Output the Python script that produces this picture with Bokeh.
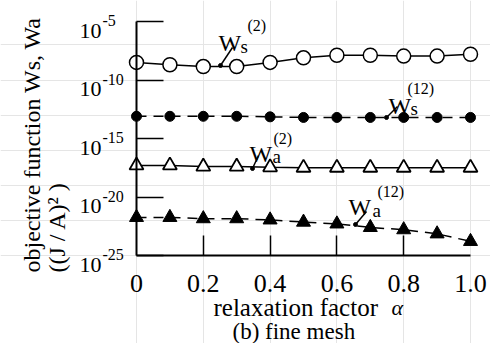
import math
from bokeh.plotting import figure
from bokeh.models import Range1d, LinearAxis, LogAxis, FixedTicker
from bokeh.core.properties import value
from bokeh.embed import file_html
from bokeh.resources import INLINE

# ---------------- data ----------------
alpha = [0.0, 0.1, 0.2, 0.3, 0.4, 0.5, 0.6, 0.7, 0.8, 0.9, 1.0]
ws2 = [3.2e-9, 2.0e-9, 1.4e-9, 1.4e-9, 3.2e-9, 7.9e-9, 1.3e-8, 1.3e-8, 1.1e-8, 1.1e-8, 1.6e-8]
ws12 = [7.9e-14, 7.9e-14, 7.9e-14, 7.9e-14, 7.1e-14, 6.3e-14, 6.3e-14, 6.3e-14, 6.3e-14, 6.3e-14, 6.3e-14]
wa2 = [5.0e-18, 5.0e-18, 4.0e-18, 4.0e-18, 3.5e-18, 3.2e-18, 3.2e-18, 3.2e-18, 3.2e-18, 3.2e-18, 3.2e-18]
wa12 = [1.8e-22, 1.8e-22, 1.4e-22, 1.4e-22, 1.1e-22, 7.1e-23, 5.0e-23, 2.5e-23, 1.6e-23, 7.1e-24, 1.6e-24]

x_ticks = [0.2, 0.4, 0.6, 0.8]
x_label_pos = [0.0, 0.2, 0.4, 0.6, 0.8, 1.0]
x_labels = ["0", "0.2", "0.4", "0.6", "0.8", "1.0"]
y_ticks = [1e-5, 1e-10, 1e-15, 1e-20, 1e-25]
y_exps = ["-5", "-10", "-15", "-20", "-25"]

# ---------------- layout ----------------
W, H = 490, 343
OX, OY = 136, 255          # px of the origin (alpha=0, 1e-25)
PX_X = 334.0               # px per unit alpha
PX_DEC = 11.7              # px per decade

x_range = Range1d(-OX / PX_X, (W - OX) / PX_X)
y_range = Range1d(10 ** (-25 - (H - OY) / PX_DEC), 10 ** (-25 + OY / PX_DEC))

def X(px):   # px -> data x
    return (px - OX) / PX_X

def Y(py):   # px -> data y
    return 10 ** (-25 + (OY - py) / PX_DEC)

SERIF = value("Liberation Serif")

p = figure(width=W, height=H, x_range=x_range, y_range=y_range,
           y_axis_type="log", x_axis_location=None, y_axis_location=None,
           output_backend="svg", toolbar_location=None)
p.min_border = 0
p.min_border_left = p.min_border_right = p.min_border_top = p.min_border_bottom = 0
p.outline_line_color = None
p.background_fill_color = "white"
p.border_fill_color = "white"

xaxis = LinearAxis(fixed_location=1e-25, bounds=(0, 1),
                   ticker=FixedTicker(ticks=x_ticks),
                   major_tick_in=20, major_tick_out=0,
                   minor_tick_in=0, minor_tick_out=0,
                   axis_line_width=2, major_tick_line_width=1.5,
                   major_label_text_color=None)
p.add_layout(xaxis, "below")
yaxis = LogAxis(fixed_location=0, bounds=(1e-25, 1e-5),
                ticker=FixedTicker(ticks=y_ticks),
                major_tick_in=27, major_tick_out=0,
                minor_tick_in=0, minor_tick_out=0,
                axis_line_width=2, major_tick_line_width=1.5,
                major_label_text_color=None)
p.add_layout(yaxis, "left")

# ---------------- series ----------------
p.line(alpha, ws2, line_color="black", line_width=1.5)
p.scatter(alpha, ws2, marker="circle", size=14, fill_color="white", line_color="black", line_width=1.5)

p.line(alpha, ws12, line_color="black", line_width=1.5, line_dash="10 7")
p.scatter(alpha, ws12, marker="circle", size=10, fill_color="black", line_color="black")

p.line(alpha, wa2, line_color="black", line_width=1.5)
p.scatter(alpha, wa2, marker="triangle", size=14, fill_color="white", line_color="black", line_width=1.8)

p.line(alpha, wa12, line_color="black", line_width=1.5, line_dash="10 7")
p.scatter(alpha, wa12, marker="triangle", size=14, fill_color="black", line_color="black")

# ---------------- tick labels ----------------
p.text(x=[0] * len(y_ticks), y=y_ticks, text=["10"] * len(y_ticks), x_offset=-57, y_offset=9,
       text_font=SERIF, text_font_size="22px",
       text_align="left", text_baseline="alphabetic", text_color="black")
p.text(x=[0] * len(y_ticks), y=y_ticks, text=y_exps, x_offset=-34, y_offset=-1,
       text_font=SERIF, text_font_size="16px",
       text_align="left", text_baseline="alphabetic", text_color="black")
p.text(x=x_label_pos, y=[1e-25] * len(x_label_pos), text=x_labels, y_offset=28,
       text_font=SERIF, text_font_size="26px",
       text_align="center", text_baseline="alphabetic", text_color="black")

# ---------------- axis titles ----------------
p.text(x=[X(213)], y=[Y(307)], text=["relaxation factor"],
       text_font=SERIF, text_font_size="25px",
       text_align="left", text_baseline="alphabetic", text_color="black")
p.text(x=[X(391)], y=[Y(307)], text=["α"],
       text_font=SERIF, text_font_size="22px", text_font_style="italic",
       text_align="left", text_baseline="alphabetic", text_color="black")
p.text(x=[X(232)], y=[Y(331)], text=["(b) fine mesh"],
       text_font=SERIF, text_font_size="23px",
       text_align="left", text_baseline="alphabetic", text_color="black")
p.text(x=[X(31), X(56)], y=[Y(272), Y(272)],
       text=["objective function Ws, Wa", "((J / A)² )"], angle=math.pi / 2,
       text_font=SERIF, text_font_size="24px",
       text_align="left", text_baseline="alphabetic", text_color="black")

# ---------------- curve annotations ----------------
ann = [
    # (leader start, leader end, W pos, sub text, sub pos, sup text, sup pos)
    ((220, 65), (232, 47), (218, 42), "s", (240, 46), "(2)", (247, 25)),
    ((386, 117), (397, 106), (388, 105), "s", (410, 108), "(12)", (407, 88)),
    ((252, 168), (258, 155), (249, 153), "a", (272, 156), "(2)", (273, 138)),
    ((355, 224), (366, 211), (348, 206), "a", (372, 210), "(12)", (377, 191)),
]
p.segment(x0=[X(a[0][0]) for a in ann], y0=[Y(a[0][1]) for a in ann],
          x1=[X(a[1][0]) for a in ann], y1=[Y(a[1][1]) for a in ann],
          line_color="black", line_width=1.5)
p.scatter(x=[X(a[0][0]) for a in ann], y=[Y(a[0][1]) for a in ann],
          marker="circle", size=4, fill_color="black", line_color="black")
p.text(x=[X(a[2][0]) for a in ann], y=[Y(a[2][1]) for a in ann], text=["W"] * 4,
       text_font=SERIF, text_font_size="24px",
       text_align="left", text_baseline="alphabetic", text_color="black")
p.text(x=[X(a[4][0]) for a in ann], y=[Y(a[4][1]) for a in ann], text=[a[3] for a in ann],
       text_font=SERIF, text_font_size="19px",
       text_align="left", text_baseline="alphabetic", text_color="black")
p.text(x=[X(a[6][0]) for a in ann], y=[Y(a[6][1]) for a in ann], text=[a[5] for a in ann],
       text_font=SERIF, text_font_size="16px",
       text_align="left", text_baseline="alphabetic", text_color="black")

open("out.html", "w").write(file_html(p, INLINE))
